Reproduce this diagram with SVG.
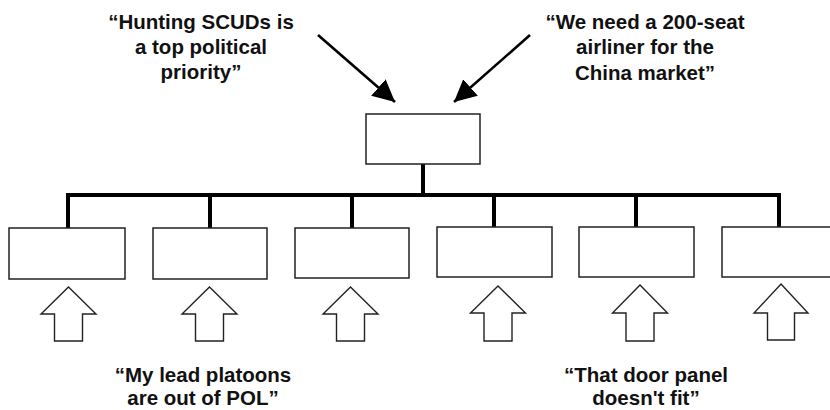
<svg xmlns="http://www.w3.org/2000/svg" width="830" height="410" viewBox="0 0 830 410">
  <defs>
    <marker id="head" markerUnits="userSpaceOnUse" markerWidth="24" markerHeight="22" refX="22" refY="11" orient="auto">
      <path d="M0,0 L22,11 L0,22 Z" fill="#000"/>
    </marker>
    <style>
      .box { fill: #fff; stroke: #222; stroke-width: 1.5; }
      .conn { fill: none; stroke: #000; stroke-width: 4; stroke-linecap: square; }
      .ptr { fill: none; stroke: #000; stroke-width: 2.6; }
      .up { fill: #fff; stroke: #222; stroke-width: 1.4; stroke-linejoin: miter; }
      .lbl { font-family: "Liberation Sans", Arial, sans-serif; font-weight: bold; font-size: 20.5px; fill: #111; text-anchor: middle; }
    </style>
  </defs>
  <rect width="830" height="410" fill="#fff"/>

  <g id="connectors">
    <path class="conn" d="M423,164 V195 M68,228 V195 H779 V227 M210,195 V228 M352,195 V228 M494,195 V227 M636,195 V227"/>
    <line class="ptr" x1="318" y1="35" x2="395" y2="102" marker-end="url(#head)"/>
    <line class="ptr" x1="530" y1="35" x2="454" y2="102" marker-end="url(#head)"/>
  </g>

  <g id="top-box"><rect class="box" x="366" y="114" width="114" height="50"/></g>
  <g id="box1"><rect class="box" x="9" y="228" width="116" height="51"/></g>
  <g id="box2"><rect class="box" x="153" y="228" width="114" height="51"/></g>
  <g id="box3"><rect class="box" x="295" y="228" width="114" height="50"/></g>
  <g id="box4"><rect class="box" x="437" y="227" width="115" height="50"/></g>
  <g id="box5"><rect class="box" x="579" y="227" width="115" height="50"/></g>
  <g id="box6"><rect class="box" x="722" y="227" width="120" height="50"/></g>

  <g id="up-arrows">
    <path class="up" d="M68.5,287 L96,314 H82.5 V341 H54.5 V314 H41 Z"/>
    <path class="up" d="M209.5,287 L237,314 H223.5 V341 H195.5 V314 H182 Z"/>
    <path class="up" d="M350.5,287 L378,314 H364.5 V341 H336.5 V314 H323 Z"/>
    <path class="up" d="M498,286 L525.5,313 H512 V341 H484 V313 H470.5 Z"/>
    <path class="up" d="M640,285 L667.5,313 H654 V341 H626 V313 H612.5 Z"/>
    <path class="up" d="M781,284 L808,313 H794.5 V340 H767.5 V313 H754 Z"/>
  </g>

  <g id="quote-scuds">
    <text class="lbl" x="201" y="29">“Hunting SCUDs is</text>
    <text class="lbl" x="201" y="54">a top political</text>
    <text class="lbl" x="201" y="79">priority”</text>
  </g>
  <g id="quote-airliner">
    <text class="lbl" x="645" y="29">“We need a 200-seat</text>
    <text class="lbl" x="645" y="54">airliner for the</text>
    <text class="lbl" x="645" y="80">China market”</text>
  </g>
  <g id="quote-platoons">
    <text class="lbl" x="203" y="382">“My lead platoons</text>
    <text class="lbl" x="203" y="405">are out of POL”</text>
  </g>
  <g id="quote-door">
    <text class="lbl" x="646" y="382">“That door panel</text>
    <text class="lbl" x="646" y="405">doesn't fit”</text>
  </g>
</svg>
